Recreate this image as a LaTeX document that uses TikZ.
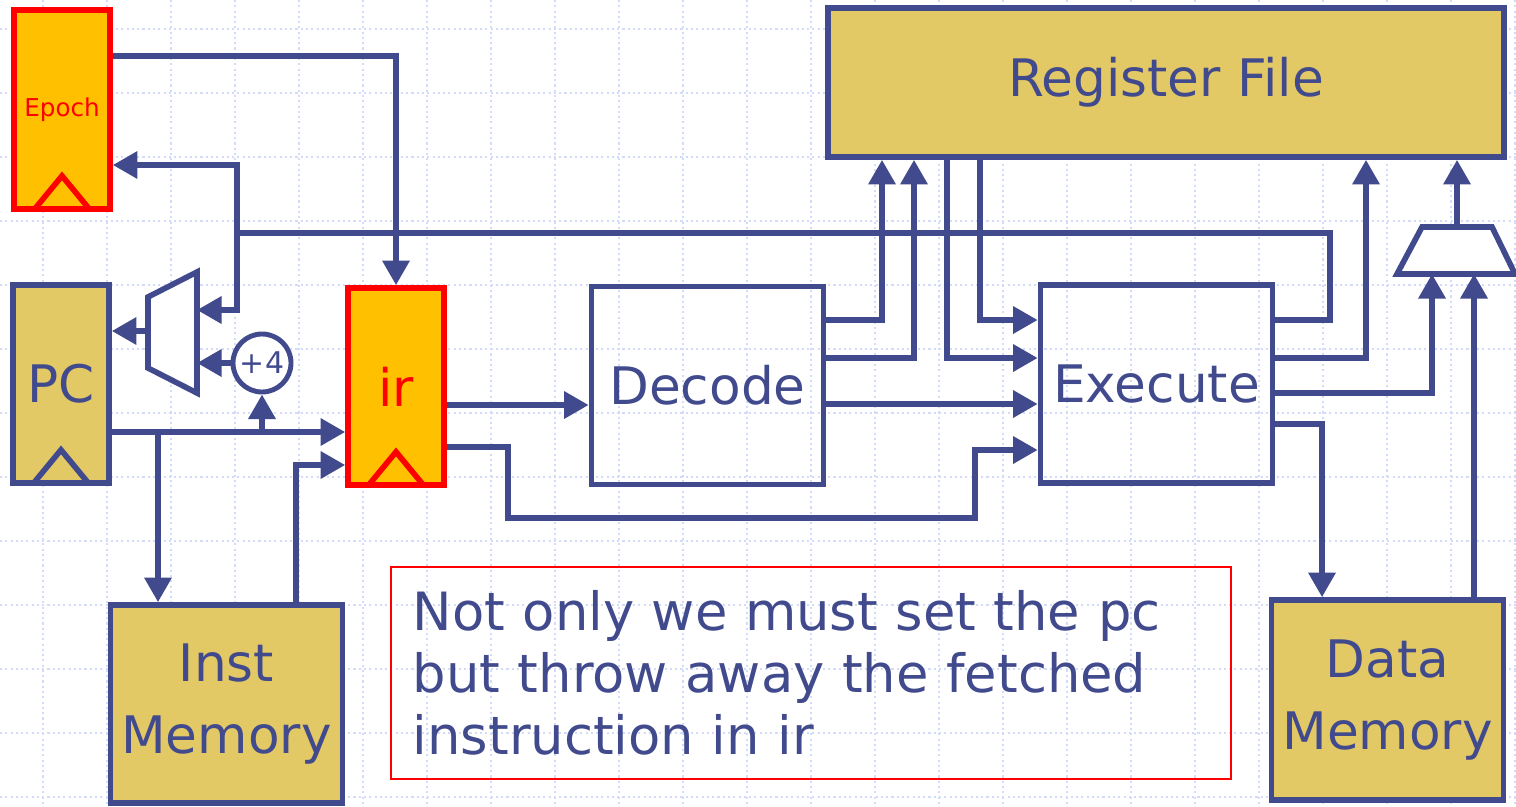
\documentclass[tikz,border=0pt]{standalone}
\usepackage{fontspec}
\setmainfont{DejaVu Sans}
\usepackage{xcolor}
\definecolor{cNavy}  {HTML}{414A8C}
\definecolor{cGold}  {HTML}{E3C866}
\definecolor{cOrange}{HTML}{FFC000}
\definecolor{cGrid}  {HTML}{D2DCF8}
\usetikzlibrary{arrows.meta, positioning, calc}
\tikzset{
  grid/.style   = {draw=cGrid, line width=0.8pt, dash pattern=on 0.6pt off 0.9pt},
  wire/.style   = {draw=cNavy, line width=1.6pt},
  arr/.style    = {wire, -{Triangle[length=7pt, width=7.5pt]}},
  blk/.style    = {draw=cNavy, line width=1.6pt, inner sep=0pt, align=center,
                   minimum width=#1, minimum height=1.98cm},
  blk/.default  = 2.32cm,
  regbox/.style = {blk=0.96cm, fill=cGold},
  hotreg/.style = {regbox, fill=cOrange, draw=red, text=red},
  membox/.style = {blk, fill=cGold, font=\fontsize{14.7}{20.7}\selectfont},
}

\begin{document}
\begin{tikzpicture}[x=0.01cm, y=-0.01cm, text=cNavy,
                    font=\fontsize{14.7}{17.6}\selectfont]

  \useasboundingbox (0,0) rectangle (1516,806);

  %% Background grid
  \foreach \gx in {0,...,23}
    \draw[grid] (43+64*\gx,0) -- (43+64*\gx,806);
  \foreach \gy in {0,...,12}
    \draw[grid] (0,29+64*\gy) -- (1516,29+64*\gy);

  %% Fetch side
  \node[hotreg, minimum height=1.99cm,
        font=\fontsize{7}{8}\selectfont] (epoch) at (62,109.5) {Epoch};
  \node[regbox]               (pc)   at (61,384)    {PC};
  \node[hotreg, minimum height=1.97cm] (ir) at (396,386.5) {ir};
  \node[membox]               (imem) at (226.5,704) {Inst\\Memory};
  \node[circle, draw=cNavy, line width=1.4pt, fill=white, inner sep=0pt,
        minimum size=0.58cm, font=\fontsize{8.5}{10}\selectfont]
                              (inc)  at (262,363)   {+4};

  %% Clock marks
  \foreach \r/\c in {epoch/red, pc/cNavy, ir/red}
    \draw[line width=1.6pt, draw=\c]
      ($(\r.south)+(-28,-2)$) -- ($(\r.south)+(0,-36)$) -- ($(\r.south)+(28,-2)$);

  %% Next-pc mux
  \draw[wire, fill=white] (148,297) -- (197,272) -- (197,393) -- (148,368) -- cycle;
  \coordinate (muxAo)  at (148,331);
  \coordinate (muxAi1) at (197,310);
  \coordinate (muxAi2) at (197,363);

  %% Execute side
  \node[blk]                  (dec)  at (707.5,385.5) {Decode};
  \node[blk]                  (exe)  at (1156.5,384)  {Execute};
  \node[blk=6.76cm, minimum height=1.49cm, fill=cGold]
                              (rf)   at (1166,82.5)   {Register File};
  \node[membox, minimum height=2.0cm]
                              (dmem) at (1387.5,700)  {Data\\Memory};

  %% Write-back mux
  \draw[wire, fill=white] (1422,227) -- (1492,227) -- (1515,274) -- (1397,274) -- cycle;
  \coordinate (muxBo)  at (1457,227);
  \coordinate (muxBi1) at (1432,274);
  \coordinate (muxBi2) at (1474,274);

  %% Note
  \node[draw=red, line width=0.6pt, minimum height=2.12cm, text width=7.96cm,
        inner xsep=0.22cm, align=left,
        font=\fontsize{15}{17.7}\selectfont] (note) at (811,673)
        {Not only we must set the pc\\but throw away the fetched\\instruction in ir};

  %% Taps
  \coordinate (pcA) at (158,432);
  \coordinate (pcB) at (262,432);
  \coordinate (fb)  at (237,233);

  %% Arrows, fetch
  \draw[arr] (epoch.east |- 0,56) -| (ir.north);
  \draw[arr] (pc.east |- 0,432) -- (ir.west |- 0,432);
  \draw[arr] (pcA) -- (imem.north -| pcA);
  \draw[arr] (pcB) -- (inc.south);
  \draw[arr] (inc.west) -- (muxAi2);
  \draw[arr] (muxAo) -- (pc.east |- muxAo);
  \draw[arr] (imem.north -| 296,0) |- (ir.west |- 0,465);

  %% Arrows, decode
  \draw[arr] (ir.east |- 0,405) -- (dec.west |- 0,405);
  \draw[arr] (ir.east |- 0,447) -| (508,518) -| (975,450) -- (exe.west |- 0,450);
  \draw[arr] (dec.east |- 0,320) -| (rf.south -| 882,0);
  \draw[arr] (dec.east |- 0,358) -| (rf.south -| 914,0);
  \draw[arr] (dec.east |- 0,404) -- (exe.west |- 0,404);
  \draw[arr] (rf.south -| 947,0) |- (exe.west |- 0,358);
  \draw[arr] (rf.south -| 980,0) |- (exe.west |- 0,320);

  %% Arrows, execute
  \draw[wire] (exe.east |- 0,320) -| (1330,233) -- (fb);
  \draw[arr] (fb) |- (epoch.east |- 0,165);
  \draw[arr] (fb) |- (muxAi1);
  \draw[arr] (exe.east |- 0,358) -| (rf.south -| 1366,0);
  \draw[arr] (exe.east |- 0,393) -| (muxBi1);
  \draw[arr] (exe.east |- 0,424) -| (dmem.north -| 1322,0);
  \draw[arr] (dmem.north -| muxBi2) -- (muxBi2);
  \draw[arr] (muxBo) -- (rf.south -| muxBo);

\end{tikzpicture}
\end{document}
